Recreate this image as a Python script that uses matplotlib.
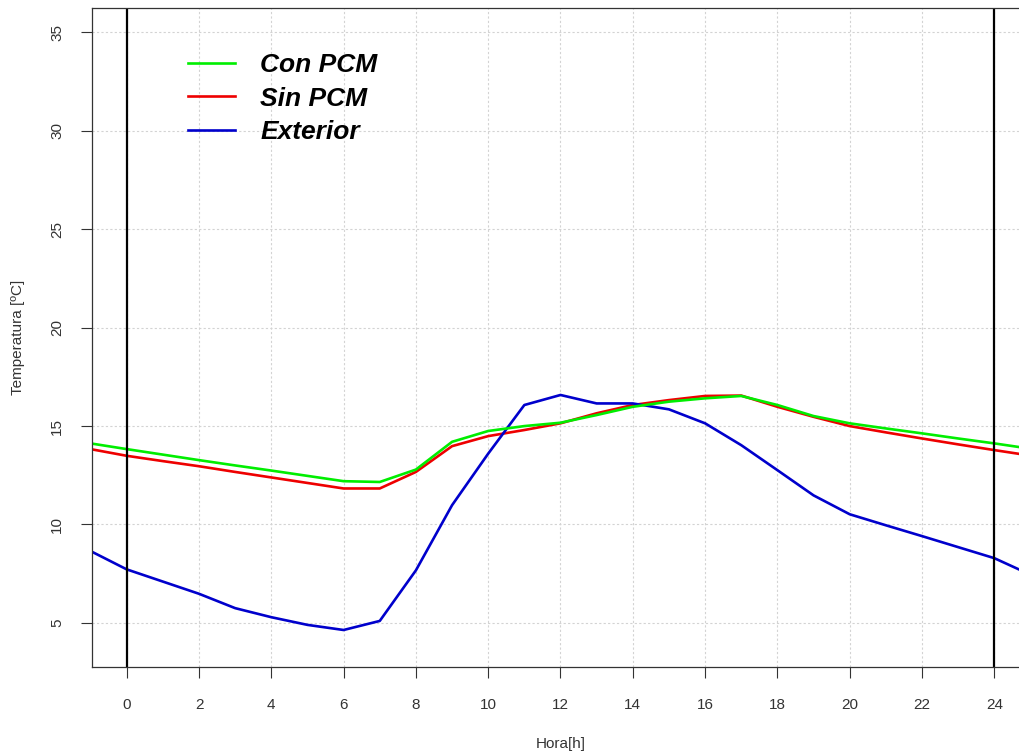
import matplotlib
matplotlib.use("Agg")
import matplotlib.pyplot as plt
from matplotlib.lines import Line2D

plt.rcParams['font.family'] = ['Liberation Sans', 'DejaVu Sans']

# hourly values
hours = list(range(-1, 26))
con_pcm = [14.12, 13.83, 13.55, 13.27, 13.0, 12.74, 12.47, 12.2, 12.16, 12.79, 14.2, 14.75,
           15.0, 15.17, 15.56, 15.98, 16.24, 16.41, 16.53, 16.07, 15.51, 15.14, 14.88,
           14.63, 14.37, 14.12, 13.85]
sin_pcm = [13.83, 13.49, 13.22, 12.96, 12.67, 12.39, 12.11, 11.83, 11.83, 12.67, 13.98, 14.49,
           14.8, 15.14, 15.65, 16.07, 16.32, 16.53, 16.55, 15.98, 15.47, 15.0, 14.68,
           14.37, 14.07, 13.78, 13.5]
exterior = [8.65, 7.72, 7.1, 6.48, 5.75, 5.29, 4.9, 4.64, 5.1, 7.67, 10.98, 13.6,
            16.07, 16.58, 16.15, 16.15, 15.85, 15.14, 14.03, 12.76, 11.48, 10.52, 9.96,
            9.41, 8.85, 8.29, 7.45]

labels = ['Con PCM', 'Sin PCM', 'Exterior']
colors = ['#00ee00', '#ee0000', '#0000cc']

fig = plt.figure(figsize=(10.2, 7.52), dpi=100)
ax = fig.add_axes([92 / 1020, 85 / 752, 937 / 1020, 659 / 752])

ax.plot(hours, sin_pcm, color=colors[1], lw=1.9)
ax.plot(hours, exterior, color=colors[2], lw=1.9)
ax.plot(hours, con_pcm, color=colors[0], lw=1.9)
ax.axvline(0, color='black', lw=1.6)
ax.axvline(24, color='black', lw=1.6)

ax.set_xlim(-0.96, 24.96)
ax.set_ylim(2.76, 36.24)
ax.set_xticks(range(0, 25, 2))
ax.set_yticks(range(5, 36, 5))
ax.grid(True, color='#d3d3d3', linestyle=(0, (2, 2)), lw=0.8)
ax.set_axisbelow(True)

ax.tick_params(axis='both', direction='out', length=8, width=0.8, colors='#333333',
               labelsize=11, labelcolor='#333333')
ax.tick_params(axis='x', pad=14)
ax.tick_params(axis='y', pad=12)
for t in ax.get_yticklabels():
    t.set_rotation(90)
    t.set_va('center')

for s in ax.spines.values():
    s.set_color('#333333')
    s.set_linewidth(0.9)

ax.set_xlabel('Hora[h]', fontsize=11, color='#333333', labelpad=18)
ax.set_ylabel('Temperatura [ºC]', fontsize=11, color='#333333', labelpad=18)

handles = [Line2D([], [], color=c, lw=1.9) for c in colors]
leg = ax.legend(handles, labels, loc='upper left', bbox_to_anchor=(0.102, 0.931),
                frameon=False, borderpad=0, borderaxespad=0,
                handlelength=1.8, handletextpad=0.95, labelspacing=0.35,
                prop={'size': 19, 'weight': 'bold', 'style': 'italic'})

fig.savefig('out.png', dpi=100)
